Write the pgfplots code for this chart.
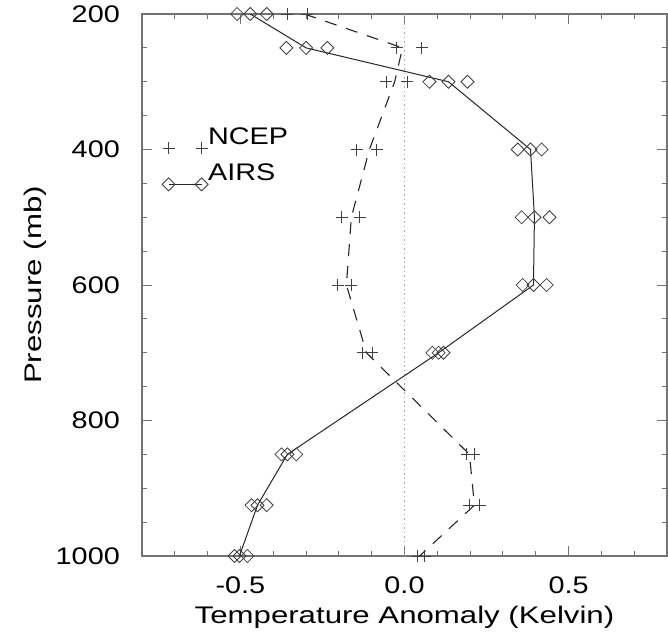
\documentclass[border=0pt]{standalone}
\usepackage{pgfplots}
\pgfplotsset{compat=1.18}
\usepackage{fontspec}
\setmainfont{Liberation Sans}[FakeStretch=1.2]
\newfontfamily\labelfont{Liberation Sans}[FakeStretch=1.3]
\pgfkeys{/pgf/number format/assume math mode=true}
\definecolor{axisgray}{gray}{0.45}
\definecolor{markgray}{gray}{0.25}
\begin{document}
\fontsize{24}{28}\selectfont
\begin{tikzpicture}
\begin{axis}[
  scale only axis, width=525pt, height=542pt,
  xmin=-0.8, xmax=0.8, ymin=200, ymax=1000, y dir=reverse,
  xtick={-0.5,0,0.5},
  minor xtick={-0.7,-0.6,-0.4,-0.3,-0.2,-0.1,0.1,0.2,0.3,0.4,0.6,0.7},
  ytick={200,400,600,800,1000},
  minor ytick={250,300,350,450,500,550,650,700,750,850,900,950},
  scaled x ticks=false,
  xticklabel style={/pgf/number format/fixed, /pgf/number format/fixed zerofill, /pgf/number format/precision=1},
  yticklabel style={/pgf/number format/set thousands separator={}},
  tick align=inside, major tick length=10pt, minor tick length=5pt,
  every tick/.style={axisgray, line width=1pt},
  axis line style={axisgray, line width=1.5pt},
  xticklabel shift=13pt, yticklabel shift=14pt,
  xlabel={\labelfont Temperature Anomaly (Kelvin)},
  ylabel={\labelfont Pressure (mb)},
  every axis x label/.style={at={(axis description cs:0.5,0)}, anchor=base, yshift=-67pt},
  every axis y label/.style={at={(axis description cs:0,0.5)}, anchor=base, rotate=90, yshift=100pt},
  legend image code/.code={\draw[#1] plot coordinates {(0pt,-10pt) (33pt,-10pt)};},
  legend style={draw=none, fill=none, at={(0.038,0.79)}, anchor=north west, inner sep=0pt,
    row sep=10pt, column sep=0pt, nodes={inner sep=0pt}},
  legend cell align=left,
]
\addplot[gray!70, line width=1pt, dash pattern=on 1.5pt off 3pt, forget plot] coordinates {(0,200) (0,1000)};

% AIRS (center line)
\addplot[black!85, line width=1pt, mark=square, mark size=4.6pt,
  mark options={rotate=45, solid, draw=markgray, line width=0.8pt}, forget plot] coordinates {
  (-0.47,200) (-0.30,250) (0.134,300) (0.384,400) (0.396,500)
  (0.393,600) (0.104,700) (-0.357,850) (-0.448,925) (-0.503,1000)};
% AIRS spread markers
\addplot[only marks, mark=square, mark size=4.6pt,
  mark options={rotate=45, solid, draw=markgray, line width=0.8pt}, forget plot] coordinates {
  (-0.51,200) (-0.36,250) (0.076,300) (0.345,400) (0.357,500)
  (0.36,600) (0.085,700) (-0.375,850) (-0.466,925) (-0.518,1000)
  (-0.42,200) (-0.235,250) (0.192,300) (0.418,400) (0.442,500)
  (0.433,600) (0.119,700) (-0.33,850) (-0.42,925) (-0.479,1000)};

% NCEP (center line)
\addplot[black!85, line width=1.1pt, dash pattern=on 12pt off 10pt, forget plot] coordinates {
  (-0.305,200) (-0.006,250) (-0.03,300) (-0.107,400) (-0.162,500)
  (-0.177,600) (-0.116,700) (0.198,850) (0.213,925) (0.046,1000)};
% NCEP markers
\addplot[only marks, mark=+, mark size=6pt, mark options={draw=markgray, line width=0.9pt}, forget plot] coordinates {
  (-0.357,200) (-0.024,250) (-0.055,300) (-0.146,400) (-0.192,500)
  (-0.204,600) (-0.128,700) (0.189,850) (0.198,925) (0.04,1000)
  (-0.296,200) (0.052,250) (0.009,300) (-0.085,400) (-0.137,500)
  (-0.162,600) (-0.098,700) (0.213,850) (0.229,925) (0.061,1000)};

\addlegendimage{black!85, line width=1pt, dash pattern=on 0pt off 100pt, mark=+, mark size=6pt, mark options={solid, draw=markgray, line width=0.9pt}}
\addlegendentry{NCEP}
\addlegendimage{black!85, line width=1pt, mark=square, mark size=4.6pt, mark options={rotate=45, solid, draw=markgray, line width=0.8pt}}
\addlegendentry{AIRS}

\coordinate (bl) at (axis description cs:0,0);
\coordinate (tr) at (axis description cs:1,1);
\end{axis}
\pgfresetboundingbox
\path ([shift={(-142pt,-80pt)}]bl) rectangle ([shift={(1pt,14pt)}]tr);
\end{tikzpicture}
\end{document}
